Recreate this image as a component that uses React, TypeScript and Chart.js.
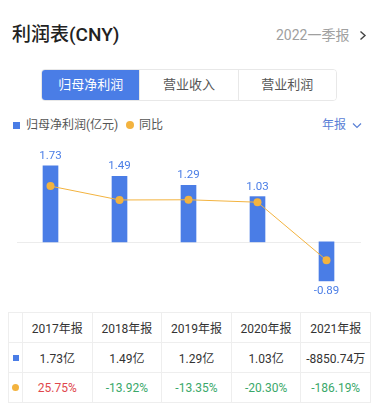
import React, { useEffect, useRef } from "react";
import { Chart, registerables } from "chart.js";

Chart.register(...registerables);

const categories = ["2017年报", "2018年报", "2019年报", "2020年报", "2021年报"];
const profit = [1.73, 1.49, 1.29, 1.03, -0.89];
const yoy = [25.75, -13.92, -13.35, -20.3, -186.19];
const profitText = ["1.73亿", "1.49亿", "1.29亿", "1.03亿", "-8850.74万"];
const yoyText = ["25.75%", "-13.92%", "-13.35%", "-20.30%", "-186.19%"];
const tabs = ["归母净利润", "营业收入", "营业利润"];

const BLUE = "#4a7de6";
const ORANGE = "#f3b33f";
const FONT = 'Roboto, "Noto Sans CJK SC", sans-serif';

const zeroLine = {
  id: "zeroLine",
  beforeDatasetsDraw(chart: any) {
    const { ctx, chartArea, scales } = chart;
    const y = Math.round(scales.y.getPixelForValue(0)) + 0.5;
    ctx.save();
    ctx.strokeStyle = "#ececec";
    ctx.lineWidth = 1;
    ctx.beginPath();
    ctx.moveTo(chartArea.left + 1, y);
    ctx.lineTo(chartArea.right, y);
    ctx.stroke();
    ctx.restore();
  },
};

const barLabels = {
  id: "barLabels",
  afterDatasetsDraw(chart: any) {
    const { ctx } = chart;
    const meta = chart.getDatasetMeta(1);
    const data = chart.data.datasets[1].data as number[];
    ctx.save();
    ctx.fillStyle = BLUE;
    ctx.font = "11.5px " + FONT;
    ctx.textAlign = "center";
    ctx.textBaseline = "middle";
    meta.data.forEach((el: any, i: number) => {
      const v = data[i];
      const y = v >= 0 ? el.y - 10 : el.y + 10;
      ctx.fillText(v.toFixed(2), el.x, y);
    });
    ctx.restore();
  },
};

function ProfitChart() {
  const ref = useRef<HTMLCanvasElement>(null);
  useEffect(() => {
    const chart = new Chart(ref.current!, {
      type: "bar",
      data: {
        labels: categories,
        datasets: [
          {
            type: "line",
            label: "同比",
            data: yoy,
            yAxisID: "y2",
            borderColor: ORANGE,
            backgroundColor: ORANGE,
            borderWidth: 1,
            pointRadius: 4,
            pointBorderWidth: 0,
            pointBackgroundColor: ORANGE,
            tension: 0,
            order: 0,
          } as any,
          {
            type: "bar",
            label: "归母净利润(亿元)",
            data: profit,
            yAxisID: "y",
            backgroundColor: BLUE,
            barThickness: 15,
            order: 1,
          },
        ],
      },
      options: {
        responsive: false,
        animation: false,
        layout: { padding: 0 },
        plugins: { legend: { display: false }, tooltip: { enabled: false } },
        scales: {
          x: { display: false, grid: { display: false } },
          y: { display: false, min: -1.234, max: 2.229 },
          y2: { display: false, min: -288.6, max: 146.2 },
        },
      },
      plugins: [zeroLine, barLabels],
    });
    return () => chart.destroy();
  }, []);
  return (
    <canvas
      ref={ref}
      width={353}
      height={160}
      style={{ position: "absolute", left: 12, top: 140, width: 353, height: 160 }}
    />
  );
}

export default function App() {
  const cell: React.CSSProperties = {
    border: "1px solid #eeeeee",
    height: 29,
    padding: 0,
    textAlign: "center",
    fontSize: 12,
    whiteSpace: "nowrap",
  };
  return (
    <div
      style={{
        position: "fixed",
        left: 0,
        top: 0,
        width: 377,
        height: 414,
        background: "#fff",
        fontFamily: FONT,
        overflow: "hidden",
      }}
    >
      <div style={{ position: "absolute", left: 12, top: 22, fontSize: 19, fontWeight: 500, color: "#222", lineHeight: "26px" }}>
        利润表(CNY)
      </div>
      <div style={{ position: "absolute", left: 276, top: 26, fontSize: 14, color: "#a0a0a0", lineHeight: "18px" }}>
        2022一季报
      </div>
      <svg style={{ position: "absolute", left: 359, top: 30 }} width={8} height={11}>
        <polyline points="1.5,1.5 6,5.5 1.5,9.5" fill="none" stroke="#444" strokeWidth={1.4} />
      </svg>

      <div
        style={{
          position: "absolute",
          left: 41,
          top: 69,
          width: 294,
          height: 30,
          border: "1px solid #e8e8e8",
          borderRadius: 4,
          display: "flex",
          overflow: "hidden",
        }}
      >
        {tabs.map((t, i) => (
          <div
            key={t}
            style={{
              flex: 1,
              textAlign: "center",
              lineHeight: "30px",
              fontSize: 13,
              background: i === 0 ? BLUE : "#fff",
              color: i === 0 ? "#fff" : "#555",
              borderLeft: i > 0 ? "1px solid #e8e8e8" : "none",
            }}
          >
            {t}
          </div>
        ))}
      </div>

      <div style={{ position: "absolute", left: 13, top: 122, width: 7, height: 7, background: BLUE }} />
      <div style={{ position: "absolute", left: 26, top: 117, fontSize: 12, color: "#555", lineHeight: "17px" }}>
        归母净利润(亿元)
      </div>
      <div style={{ position: "absolute", left: 126, top: 121, width: 8, height: 8, borderRadius: 4, background: ORANGE }} />
      <div style={{ position: "absolute", left: 139, top: 117, fontSize: 12, color: "#555", lineHeight: "17px" }}>
        同比
      </div>
      <div style={{ position: "absolute", left: 322, top: 117, fontSize: 12, color: "#5a80d6", lineHeight: "17px" }}>
        年报
      </div>
      <svg style={{ position: "absolute", left: 352, top: 122 }} width={10} height={7}>
        <polyline points="1,1.5 5,5.5 9,1.5" fill="none" stroke="#5a80d6" strokeWidth={1.2} />
      </svg>

      <ProfitChart />

      <table
        style={{
          position: "absolute",
          left: 8,
          top: 312,
          width: 362,
          borderCollapse: "collapse",
          tableLayout: "fixed",
          color: "#333",
        }}
      >
        <colgroup>
          <col style={{ width: 14 }} />
          {categories.map((c) => (
            <col key={c} style={{ width: 69.6 }} />
          ))}
        </colgroup>
        <tbody>
          <tr>
            <td style={cell}></td>
            {categories.map((c) => (
              <td key={c} style={cell}>{c}</td>
            ))}
          </tr>
          <tr>
            <td style={cell}>
              <div style={{ width: 6, height: 6, background: BLUE, margin: "0 auto" }} />
            </td>
            {profitText.map((t, i) => (
              <td key={i} style={cell}>{t}</td>
            ))}
          </tr>
          <tr>
            <td style={cell}>
              <div style={{ width: 7, height: 7, borderRadius: 4, background: ORANGE, margin: "0 auto" }} />
            </td>
            {yoyText.map((t, i) => (
              <td key={i} style={{ ...cell, color: yoy[i] >= 0 ? "#e0474c" : "#3aa86a" }}>{t}</td>
            ))}
          </tr>
        </tbody>
      </table>
    </div>
  );
}
